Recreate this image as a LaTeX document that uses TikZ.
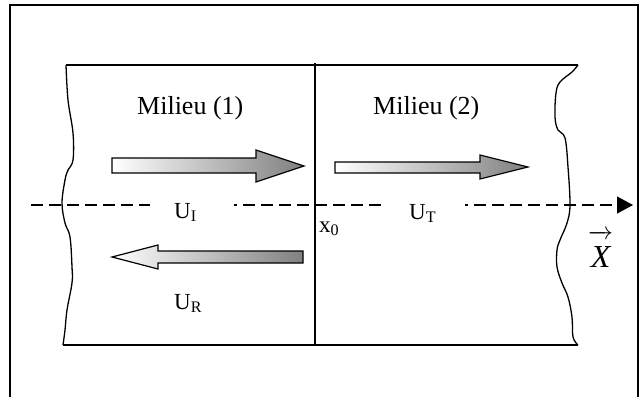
\documentclass[tikz,border=0pt]{standalone}
\usepackage{fontspec}
\setmainfont{Liberation Serif}
\usetikzlibrary{arrows.meta}
\begin{document}
\begin{tikzpicture}[x=1pt,y=-1pt,
  lbl/.style={font=\fontsize{26}{28}\selectfont, inner sep=0pt, anchor=base west},
  sublbl/.style={font=\fontsize{23}{25}\selectfont, inner sep=0pt, anchor=base west},
  fat/.style={draw=black, line width=1.2pt, line join=miter, left color=white, right color=black!50},
  medium/.style={line width=1.3pt},
  axis/.style={line width=1.2pt, dash pattern=on 12pt off 6pt}]
\useasboundingbox (0,0) rectangle (643,397);
% outer frame
\draw[line width=2pt] (10,397) -- (10,5) -- (638,5) -- (638,397);
% medium
\draw[medium] (66,65) -- (578,65);
\draw[medium] (63,345) -- (578,345);
\draw[medium] (315,63) -- (315,345);
\draw[medium] plot[smooth, tension=0.6] coordinates {(66,65) (68,100) (73,133) (73,160) (68,170) (65,180) (62,203) (65,223) (70,237) (72,267) (72,283) (67,310) (65,330) (63,345)};
\draw[medium] plot[smooth, tension=0.6] coordinates {(578,65) (572,72) (560,82) (556,93) (555,117) (558,130) (565,138) (568,167) (570,205) (567,223) (560,240) (557,250) (557,267) (562,283) (568,297) (572,317) (573,337) (578,345)};
% axis
\coordinate (a0) at (31,205);
\coordinate (a1) at (150,205);
\coordinate (a2) at (234,205);
\coordinate (a3) at (385,205);
\coordinate (a4) at (465,205);
\coordinate (a5) at (633,205);
\draw[axis] (a0) -- (a1);
\draw[axis, dash phase=9pt] (a2) -- (a3);
\draw[axis, dash phase=9pt, -{Triangle[length=16pt,width=17pt]}] (a4) -- (a5);
% arrows
\draw[fat] (112,158) -- (256,158) -- (256,150) -- (304,166) -- (256,182) -- (256,173) -- (112,173) -- cycle;
\draw[fat] (335,162) -- (480,162) -- (480,155) -- (528,167) -- (480,179) -- (480,173) -- (335,173) -- cycle;
\draw[fat] (112,257) -- (158,245) -- (158,251) -- (303,251) -- (303,263) -- (158,263) -- (158,269) -- cycle;
% labels
\node[lbl] (m1) at (137,114) {Milieu (1)};
\node[lbl] (m2) at (373,114) {Milieu (2)};
\node[sublbl] (ui) at (174,218) {U\textsubscript{I}};
\node[sublbl] (ut) at (409,219) {U\textsubscript{T}};
\node[sublbl] (ur) at (174,309) {U\textsubscript{R}};
\node[sublbl] (x0) at (319,232) {x\textsubscript{0}};
\node[font=\fontsize{32}{34}\selectfont, inner sep=0pt, anchor=base west] (X) at (588,267) {$\overrightarrow{\mbox{\itshape X\rule{0pt}{0.9em}}}$};
\end{tikzpicture}
\end{document}
